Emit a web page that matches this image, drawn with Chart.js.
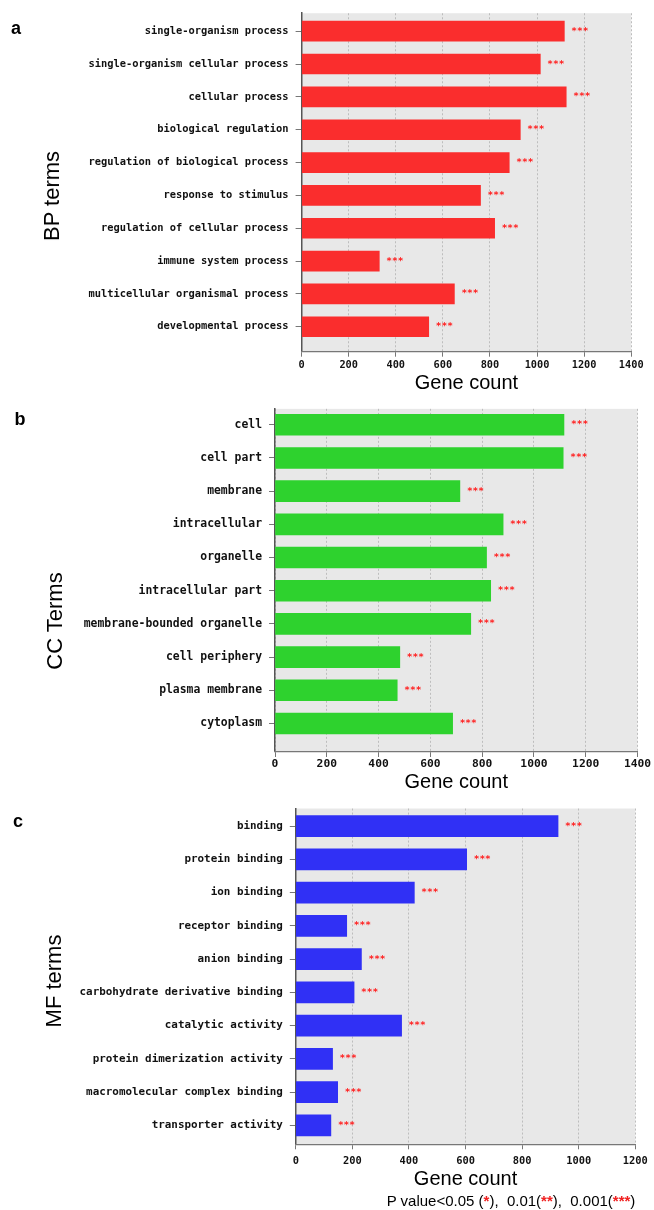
<!DOCTYPE html>
<html>
<head>
<meta charset="utf-8">
<script src="https://cdn.jsdelivr.net/npm/chart.js@4.4.1/dist/chart.umd.min.js"></script>
<style>
  body { margin: 0; background: #fff; }
  #page { position: relative; width: 654px; height: 1210px; overflow: hidden; }
  canvas { position: absolute; left: 0; }
  .lbl { position: absolute; font-family: 'Liberation Sans', Arial, sans-serif; color: #000; white-space: nowrap; transform: translate(-50%, -50%); }
  .letter { font-weight: bold; font-size: 18px; }
  .ytitle { font-size: 22px; transform: translate(-50%, -50%) rotate(-90deg); }
  .note { font-size: 15px; }
  .note span { color: #f02020; font-weight: bold; }
</style>
</head>
<body>
<div id="page">
  <canvas id="bpChart" width="654" height="395" style="top:0"></canvas>
  <canvas id="ccChart" width="654" height="400" style="top:395px"></canvas>
  <canvas id="mfChart" width="654" height="415" style="top:795px"></canvas>

  <div class="lbl letter" style="left:16px;top:28px">a</div>
  <div class="lbl letter" style="left:20px;top:419px">b</div>
  <div class="lbl letter" style="left:18px;top:821px">c</div>

  <div class="lbl ytitle" style="left:52px;top:196px">BP terms</div>
  <div class="lbl ytitle" style="left:55px;top:621px">CC Terms</div>
  <div class="lbl ytitle" style="left:54px;top:981px">MF terms</div>

  <div class="lbl note" style="left:511px;top:1200px">P value&lt;0.05 (<span>*</span>),&nbsp; 0.01(<span>**</span>),&nbsp; 0.001(<span>***</span>)</div>
</div>

<script>
// --- DATA ---
const bpTerms = [
    'single-organism process',
    'single-organism cellular process',
    'cellular process',
    'biological regulation',
    'regulation of biological process',
    'response to stimulus',
    'regulation of cellular process',
    'immune system process',
    'multicellular organismal process',
    'developmental process'
];
const bpCounts = [1116, 1014, 1124, 929, 882, 760, 820, 330, 649, 540];
const bpSig = ['***', '***', '***', '***', '***', '***', '***', '***', '***', '***'];

const ccTerms = [
    'cell',
    'cell part',
    'membrane',
    'intracellular',
    'organelle',
    'intracellular part',
    'membrane-bounded organelle',
    'cell periphery',
    'plasma membrane',
    'cytoplasm'
];
const ccCounts = [1116, 1113, 714, 881, 817, 833, 756, 482, 472, 686];
const ccSig = ['***', '***', '***', '***', '***', '***', '***', '***', '***', '***'];

const mfTerms = [
    'binding',
    'protein binding',
    'ion binding',
    'receptor binding',
    'anion binding',
    'carbohydrate derivative binding',
    'catalytic activity',
    'protein dimerization activity',
    'macromolecular complex binding',
    'transporter activity'
];
const mfCounts = [927, 604, 419, 180, 232, 206, 374, 130, 148, 124];
const mfSig = ['***', '***', '***', '***', '***', '***', '***', '***', '***', '***'];

const bpAxisMax = 1400;
const ccAxisMax = 1400;
const mfAxisMax = 1200;
const axisStep = 200;

// gray plot background
const plotBg = {
    id: 'plotBg',
    beforeDraw(chart) {
        const { ctx, chartArea: a } = chart;
        ctx.save();
        ctx.fillStyle = '#e8e8e8';
        ctx.fillRect(a.left, a.top, a.right - a.left, a.bottom - a.top);
        ctx.restore();
    }
};

// significance stars after each bar
const starMarks = {
    id: 'starMarks',
    afterDatasetsDraw(chart, args, opts) {
        const { ctx } = chart;
        const meta = chart.getDatasetMeta(0);
        ctx.save();
        ctx.fillStyle = '#ff2020';
        ctx.font = `bold ${opts.size}px "DejaVu Sans Mono"`;
        ctx.textBaseline = 'middle';
        ctx.textAlign = 'left';
        meta.data.forEach((bar, i) => {
            ctx.fillText(opts.marks[i], bar.x + opts.gap, bar.y + opts.dy);
        });
        ctx.restore();
    }
};

function makePanel(id, terms, counts, sig, color, xMax, g) {
    const ctx = document.getElementById(id).getContext('2d');
    return new Chart(ctx, {
        type: 'bar',
        data: {
            datasets: [{
                data: counts.map((v, i) => ({ x: v, y: i })),
                backgroundColor: color,
                borderColor: color,
                borderWidth: 0,
                barThickness: g.barH
            }]
        },
        options: {
            indexAxis: 'y',
            responsive: false,
            animation: false,
            layout: { padding: { top: g.padTop, right: g.padRight, bottom: g.padBottom, left: 0 } },
            plugins: {
                legend: { display: false },
                tooltip: { enabled: false },
                starMarks: { marks: sig, size: 9.5, gap: 7, dy: 0 }
            },
            scales: {
                y: {
                    type: 'linear',
                    reverse: true,
                    offset: false,
                    min: g.yMin,
                    max: g.yMax,
                    afterBuildTicks: s => { s.ticks = terms.map((t, i) => ({ value: i })); },
                    afterFit: s => { s.width = g.yWidth; },
                    ticks: {
                        callback: v => terms[v],
                        autoSkip: false,
                        padding: 7,
                        color: '#111',
                        font: { family: 'DejaVu Sans Mono', weight: 'bold', size: g.labelSize }
                    },
                    grid: { offset: false, drawOnChartArea: false, drawTicks: true, tickLength: 6, tickColor: '#777' },
                    border: { display: true, color: '#555', width: 1.5 }
                },
                x: {
                    type: 'linear',
                    min: 0,
                    max: xMax,
                    afterFit: s => { s.height = g.xHeight; },
                    ticks: {
                        stepSize: axisStep,
                        maxRotation: 0,
                        padding: g.tickPad,
                        color: '#111',
                        callback: v => String(v),
                        font: { family: 'DejaVu Sans Mono', weight: 'bold', size: g.tickSize }
                    },
                    grid: { color: '#bdbdbd', lineWidth: 1, drawTicks: true, tickLength: 5, tickColor: '#777' },
                    border: { display: true, color: '#777', width: 1.2, dash: [2, 2] },
                    title: {
                        display: true,
                        text: 'Gene count',
                        color: '#000',
                        font: { family: 'Liberation Sans', size: 20 },
                        padding: { top: 0, bottom: g.titlePad }
                    }
                }
            }
        },
        plugins: [plotBg, starMarks]
    });
}

makePanel('bpChart', bpTerms, bpCounts, bpSig, '#fa2d2d', bpAxisMax, {
    padTop: 12.7, padRight: 22.8, padBottom: 0, yMin: -0.547, yMax: 9.76,
    yWidth: 301.6, xHeight: 43.3, tickPad: 2.4, tickSize: 10.3, labelSize: 10.4,
    titlePad: 0, barH: 20
});

makePanel('ccChart', ccTerms, ccCounts, ccSig, '#2ed22e', ccAxisMax, {
    padTop: 7.7, padRight: 16.5, padBottom: 0, yMin: -0.48, yMax: 9.86,
    yWidth: 275, xHeight: 43, tickPad: 0, tickSize: 11.3, labelSize: 11.4,
    titlePad: 1, barH: 21
});

makePanel('mfChart', mfTerms, mfCounts, mfSig, '#3030f5', mfAxisMax, {
    padTop: 7.7, padRight: 16, padBottom: 19, yMin: -0.53, yMax: 9.57,
    yWidth: 295.8, xHeight: 46.7, tickPad: 6.2, tickSize: 10.4, labelSize: 10.9,
    titlePad: 0, barH: 21
});
</script>
</body>
</html>
